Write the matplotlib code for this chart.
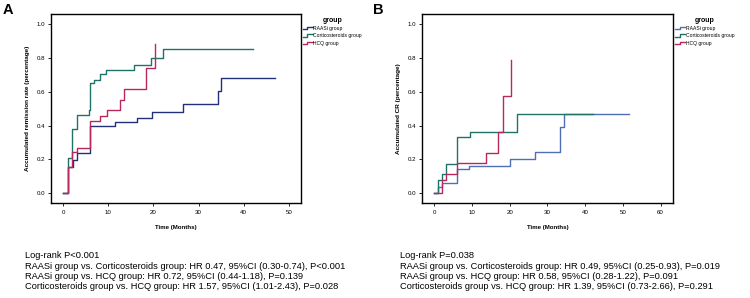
#!/usr/bin/env python3
"""
Kaplan-Meier style cumulative remission curves, two panels (A: remission, B: CR).
"""

import matplotlib
matplotlib.use('Agg')
import matplotlib.pyplot as plt
from matplotlib.lines import Line2D
from matplotlib.legend_handler import HandlerLine2D

plt.rcParams['font.family'] = ['Liberation Sans', 'DejaVu Sans']

groups = ['RAASi group', 'Corticosteroids group', 'HCQ group']

# Panel A - accumulated remission rate
a_raasi_t = [0, 1.1, 2.2, 3.1, 6.0, 11.6, 16.4, 19.8, 26.6, 34.2, 35.0, 47.0]
a_raasi_v = [0, 0.157, 0.197, 0.24, 0.40, 0.42, 0.446, 0.478, 0.527, 0.605, 0.684, 0.684]
a_cort_t = [0, 1.1, 2.1, 3.1, 5.7, 6.0, 6.9, 8.3, 9.5, 15.7, 19.4, 22.2, 42.1]
a_cort_v = [0, 0.206, 0.38, 0.46, 0.49, 0.652, 0.668, 0.704, 0.727, 0.761, 0.80, 0.851, 0.851]
a_hcq_t = [0, 1.1, 2.0, 3.1, 6.0, 8.1, 9.7, 12.6, 13.6, 18.3, 20.3]
a_hcq_v = [0, 0.157, 0.245, 0.27, 0.43, 0.456, 0.49, 0.55, 0.614, 0.739, 0.88]

# Panel B - accumulated CR
b_raasi_t = [0, 1.06, 2.0, 6.1, 9.2, 20.1, 26.6, 33.2, 34.5, 51.6]
b_raasi_v = [0, 0.04, 0.063, 0.141, 0.161, 0.20, 0.245, 0.39, 0.467, 0.467]
b_cort_t = [0, 1.06, 2.0, 3.1, 6.0, 9.5, 22.0, 42.2]
b_cort_v = [0, 0.078, 0.114, 0.175, 0.333, 0.361, 0.466, 0.466]
b_hcq_t = [0, 2.0, 3.1, 6.1, 13.6, 17.0, 18.3, 20.4]
b_hcq_v = [0, 0.08, 0.112, 0.177, 0.236, 0.36, 0.576, 0.79]

a_stats = ['Log-rank P<0.001',
           'RAASi group vs. Corticosteroids group: HR 0.47, 95%CI (0.30-0.74), P<0.001',
           'RAASi group vs. HCQ group: HR 0.72, 95%CI (0.44-1.18), P=0.139',
           'Corticosteroids group vs. HCQ group: HR 1.57, 95%CI (1.01-2.43), P=0.028']
b_stats = ['Log-rank P=0.038',
           'RAASi group vs. Corticosteroids group: HR 0.49, 95%CI (0.25-0.93), P=0.019',
           'RAASi group vs. HCQ group: HR 0.58, 95%CI (0.28-1.22), P=0.091',
           'Corticosteroids group vs. HCQ group: HR 1.39, 95%CI (0.73-2.66), P=0.291']


class StepHandler(HandlerLine2D):
    """Legend icon drawn as a small step, like SPSS survival plots."""
    def create_artists(self, legend, orig_handle, xdescent, ydescent,
                       width, height, fontsize, trans):
        x0, x1 = -xdescent, -xdescent + width
        xm = x0 + 0.45 * width
        y0, y1 = -ydescent + 0.2 * height, -ydescent + 0.85 * height
        line = Line2D([x0, xm, xm, x1], [y0, y0, y1, y1],
                      color=orig_handle.get_color(), lw=orig_handle.get_linewidth())
        line.set_transform(trans)
        return [line]


def draw_panel(ax, series, colors, xlim, xticks, ylabel):
    for (t, v), c, name in zip(series, colors, groups):
        ax.step(t, v, where='post', color=c, lw=1.0, label=name)
    ax.set_xlim(*xlim)
    ax.set_ylim(-0.057, 1.06)
    ax.set_xticks(xticks)
    ax.set_yticks([0, 0.2, 0.4, 0.6, 0.8, 1.0])
    ax.set_yticklabels(['0.0', '0.2', '0.4', '0.6', '0.8', '1.0'])
    ax.tick_params(labelsize=4.4, length=2.2, width=0.6, pad=2)
    ax.tick_params(axis='x', pad=3)
    for s in ax.spines.values():
        s.set_linewidth(1.0)
    ax.set_xlabel('Time (Months)', fontsize=4.4, fontweight='bold', labelpad=7)
    ax.set_ylabel(ylabel, fontsize=4.6, fontweight='bold', labelpad=5)
    ax.legend(loc='upper left', bbox_to_anchor=(1.008, 0.985),
              frameon=False, fontsize=3.6, title='group',
              title_fontproperties={'size': 5, 'weight': 'bold'},
              borderaxespad=0, borderpad=0, labelspacing=0.45,
              handlelength=2.0, handletextpad=0.1,
              handler_map={Line2D: StepHandler()})


fig = plt.figure(figsize=(7.5, 2.98), dpi=100)
ax_a = fig.add_axes([0.068, 0.319, 0.3333, 0.634])
ax_b = fig.add_axes([0.5627, 0.319, 0.3347, 0.634])

draw_panel(ax_a,
           [(a_raasi_t, a_raasi_v), (a_cort_t, a_cort_v), (a_hcq_t, a_hcq_v)],
           ['#22307a', '#1e7268', '#b8285c'],
           (-2.65, 52.65), [0, 10, 20, 30, 40, 50],
           'Accumulated remission rate (percentage)')
draw_panel(ax_b,
           [(b_raasi_t, b_raasi_v), (b_cort_t, b_cort_v), (b_hcq_t, b_hcq_v)],
           ['#4e6fb5', '#1e7268', '#b8285c'],
           (-3.26, 63.3), [0, 10, 20, 30, 40, 50, 60],
           'Accumulated CR (percentage)')

# panel letters
fig.text(3 / 750, 1 - 3 / 298, 'A', fontsize=10.5, fontweight='bold', ha='left', va='top')
fig.text(373 / 750, 1 - 3 / 298, 'B', fontsize=10.5, fontweight='bold', ha='left', va='top')

# statistics below each panel
for x0, lines in [(25, a_stats), (400, b_stats)]:
    for i, s in enumerate(lines):
        fig.text(x0 / 750, 1 - (255.7 + 10.4 * i) / 298, s, fontsize=6.7,
                 ha='left', va='center')

fig.savefig('out.png', dpi=100)
